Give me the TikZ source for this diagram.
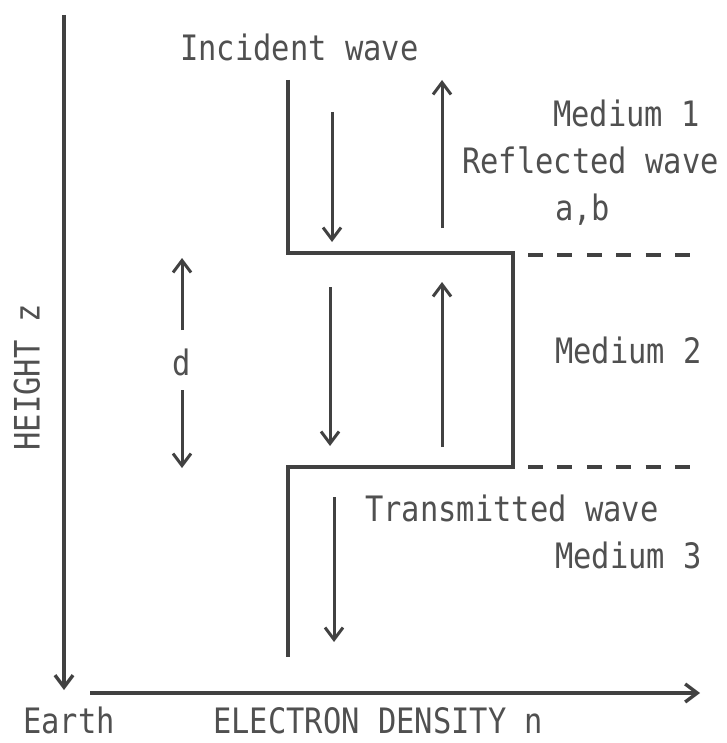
\documentclass[tikz,border=0pt]{standalone}
\usepackage{fontspec}
\setmonofont[FakeStretch=0.87]{DejaVu Sans Mono}
\usepackage{tikz}
\usetikzlibrary{arrows.meta,positioning}
\definecolor{inkgray}{RGB}{65,65,65}
\definecolor{textgray}{RGB}{80,80,80}

\begin{document}
\begin{tikzpicture}[x=1pt,y=1pt,
  lbl/.style={inner sep=0pt, anchor=mid west, text=textgray,
    font=\ttfamily\fontsize{35}{40}\selectfont},
  axis/.style={-{Straight Barb[length=12pt,width=18pt,line width=3.4pt]},
    line width=4.6pt, inkgray},
  profile/.style={line width=4.2pt, inkgray, line join=miter},
  wave/.style={-{Straight Barb[length=12pt,width=18pt,line width=3pt]},
    line width=3pt, inkgray},
  bound/.style={line width=3.4pt, inkgray, dash pattern=on 15pt off 14.4pt}
]
\useasboundingbox (0,0) rectangle (726,-743);
% axes
\coordinate (ztop) at (64,-15);
\coordinate (zbot) at (64,-690);
\coordinate (nleft) at (90,-693);
\coordinate (nright) at (700,-693);
\draw[axis] (ztop) -- (zbot);
\draw[axis] (nleft) -- (nright);
\node[lbl, anchor=center, rotate=90] (height) at (27,-377) {HEIGHT z};
\node[lbl] (earth) at (23,-731) {Earth};
\node[lbl] (density) at (213,-731) {ELECTRON DENSITY n};
% density profile
\coordinate (p1) at (288,-80);
\coordinate (p2) at (288,-253);
\coordinate (p3) at (513,-253);
\coordinate (p4) at (513,-467);
\coordinate (p5) at (288,-467);
\coordinate (p6) at (288,-657);
\draw[profile] (p1) -- (p2) -- (p3) -- (p4) -- (p5) -- (p6);
% boundaries
\coordinate (b1l) at (528,-255);
\coordinate (b1r) at (690,-255);
\coordinate (b2l) at (528,-467);
\coordinate (b2r) at (690,-467);
\draw[bound] (b1l) -- (b1r);
\draw[bound] (b2l) -- (b2r);
% waves
\coordinate (i1a) at (332,-112);
\coordinate (i1b) at (332,-242);
\coordinate (r1a) at (442,-228);
\coordinate (r1b) at (442,-80);
\coordinate (i2a) at (330,-287);
\coordinate (i2b) at (330,-446);
\coordinate (r2a) at (442,-447);
\coordinate (r2b) at (442,-282);
\coordinate (t3a) at (334,-497);
\coordinate (t3b) at (334,-642);
\draw[wave] (i1a) -- (i1b);
\draw[wave] (r1a) -- (r1b);
\draw[wave] (i2a) -- (i2b);
\draw[wave] (r2a) -- (r2b);
\draw[wave] (t3a) -- (t3b);
% thickness d
\node[lbl, anchor=center] (dlabel) at (182,-362) {d};
\coordinate (dup) at (182,-330);
\coordinate (dtop) at (182,-258);
\coordinate (ddown) at (182,-390);
\coordinate (dbot) at (182,-468);
\draw[wave] (dup) -- (dtop);
\draw[wave] (ddown) -- (dbot);
% labels
\node[lbl] (incident) at (180,-58) {Incident wave};
\node[lbl] (med1) at (553,-124) {Medium 1};
\node[lbl] (reflected) at (462,-171) {Reflected wave};
\node[lbl] (ab) at (555,-218) {a,b};
\node[lbl] (med2) at (555,-361) {Medium 2};
\node[lbl] (transmitted) at (365,-519) {Transmitted wave};
\node[lbl] (med3) at (555,-566) {Medium 3};
\end{tikzpicture}
\end{document}
